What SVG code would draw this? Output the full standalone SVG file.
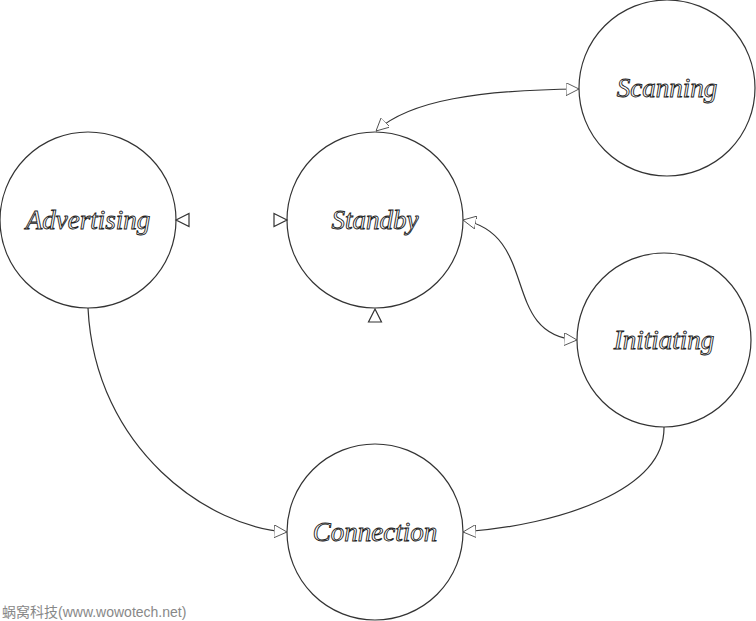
<svg xmlns="http://www.w3.org/2000/svg" width="756" height="621" viewBox="0 0 756 621">
<style>
.node circle{fill:#fff;stroke:#333;stroke-width:1.2}
.node text{font-family:"Liberation Serif",serif;font-style:italic;font-size:27px;fill:#fff;stroke:#222;stroke-width:0.9;text-anchor:middle;dominant-baseline:central}
.conn path{fill:none;stroke:#333;stroke-width:1.2}
.wm{font-family:"Liberation Sans","Noto Sans CJK SC",sans-serif;font-size:14px;fill:#888}
</style>
<defs>
<marker id="arr" viewBox="0 0 12 12" refX="12" refY="6" markerWidth="13" markerHeight="13" markerUnits="userSpaceOnUse" orient="auto-start-reverse">
<path d="M0,0 L12,6 L0,12 Z" fill="#fff" stroke="#444" stroke-width="0.8"/>
</marker>
</defs>
<rect width="756" height="621" fill="#fff"/>
<g id="advertising" class="node"><circle cx="88" cy="220" r="88"/><text x="88" y="220">Advertising</text></g>
<g id="standby" class="node"><circle cx="375" cy="220" r="88"/><text x="375" y="220">Standby</text></g>
<g id="scanning" class="node"><circle cx="667" cy="88" r="88"/><text x="667" y="88">Scanning</text></g>
<g id="initiating" class="node"><circle cx="664" cy="340" r="87"/><text x="664" y="340">Initiating</text></g>
<g id="connection" class="node"><circle cx="375" cy="532" r="88"/><text x="375" y="532">Connection</text></g>
<g id="connectors" class="conn">
<path d="M376,131 C410,100 480,90 579,89" marker-start="url(#arr)" marker-end="url(#arr)"/>
<path d="M463,220 C540,235 500,335 577,340" marker-start="url(#arr)" marker-end="url(#arr)"/>
<path d="M664,427 C665,490 560,525 463,532" marker-end="url(#arr)"/>
<path d="M88,308 C95,450 210,528 287,532" marker-end="url(#arr)"/>
<path d="M176,220 L189,213.5 L189,226.5 Z" fill="#fff" stroke="#444" stroke-width="0.8"/>
<path d="M274,213.5 L287,220 L274,226.5 Z" fill="#fff" stroke="#444" stroke-width="0.8"/>
<path d="M375,309 L381.5,322 L368.5,322 Z" fill="#fff" stroke="#444" stroke-width="0.8"/>
</g>
<text class="wm" x="2" y="617">蜗窝科技(www.wowotech.net)</text>
</svg>
